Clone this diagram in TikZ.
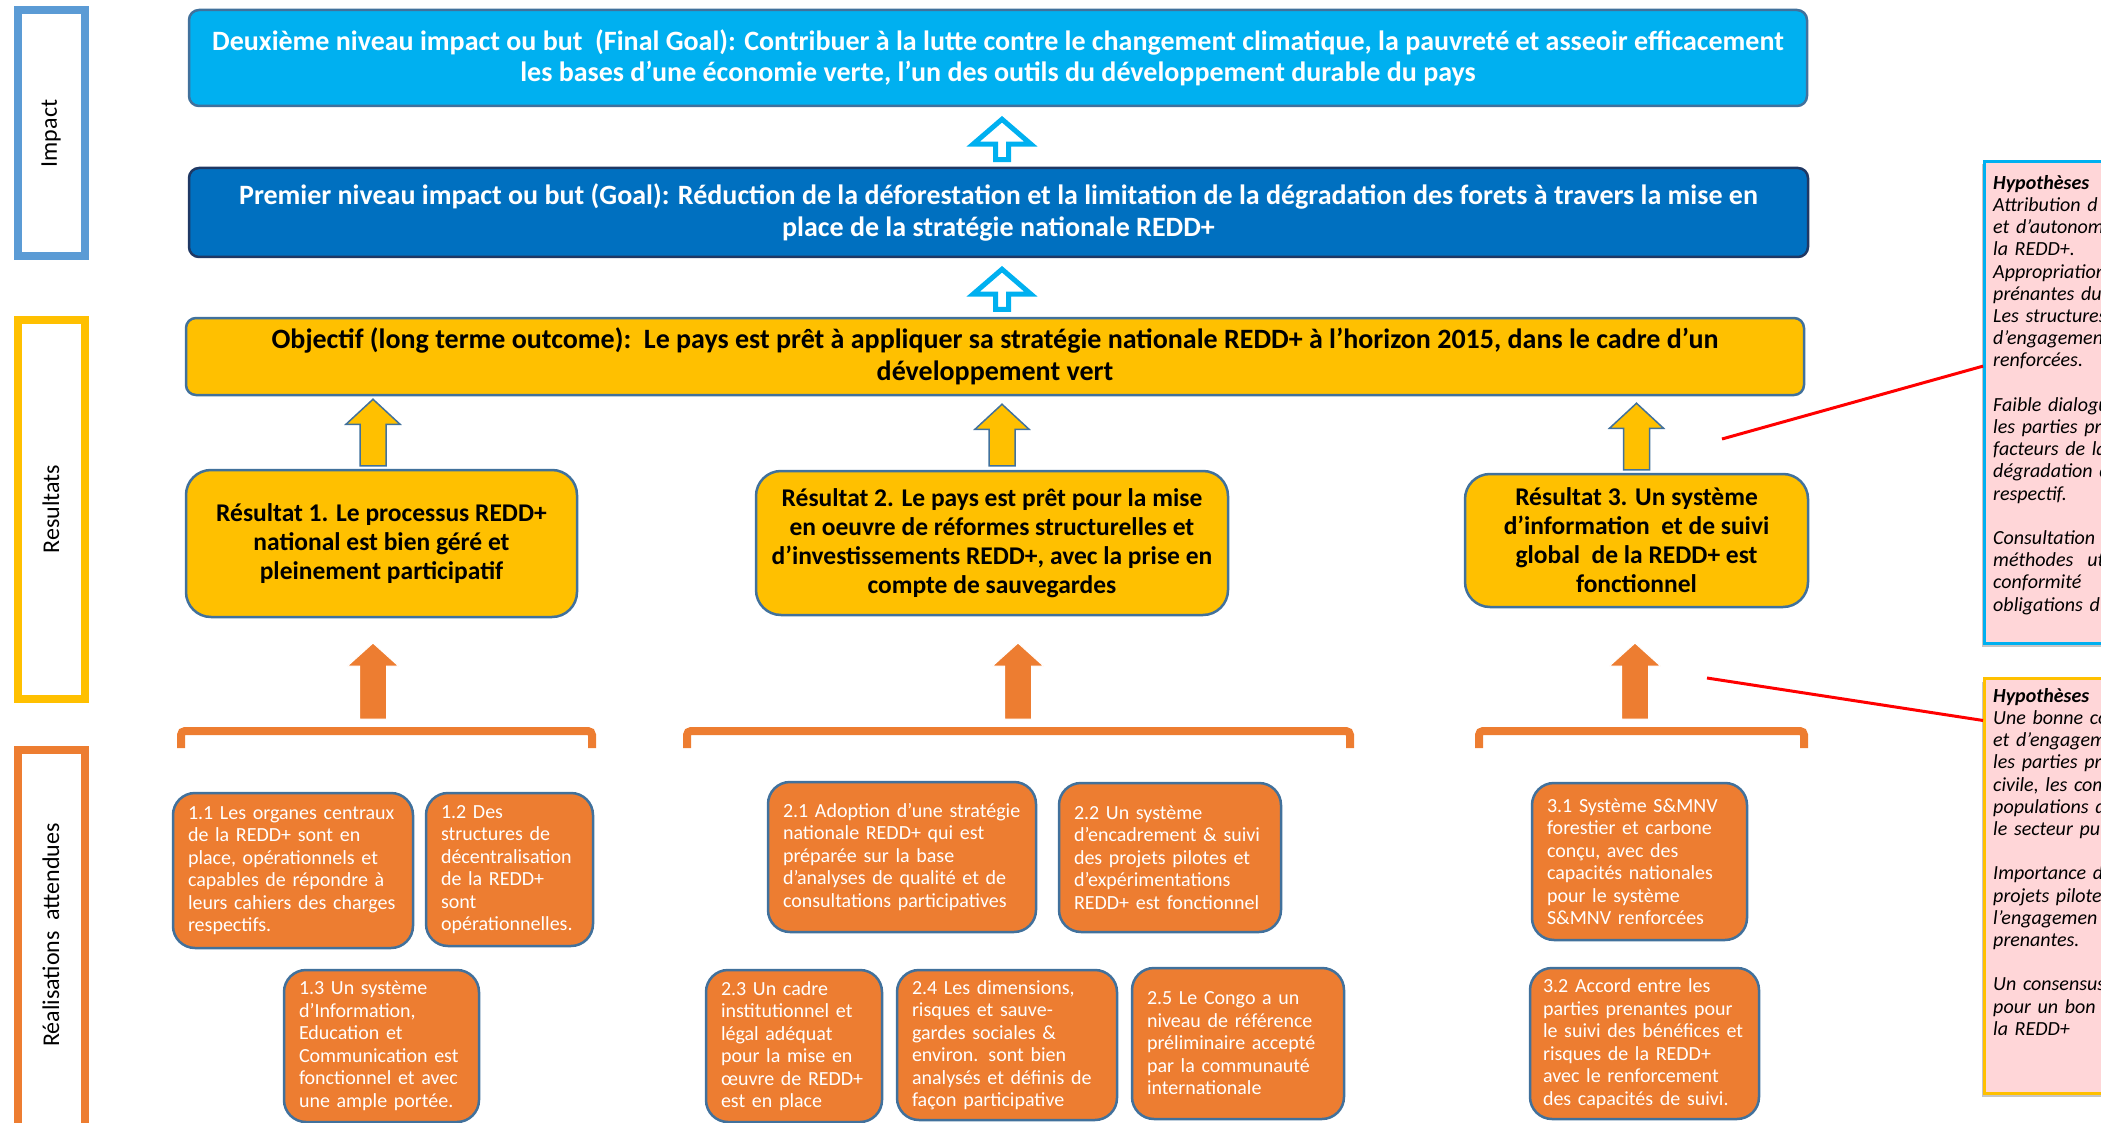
\documentclass[tikz,border=0pt]{standalone}
\usepackage{fontspec}
\setmainfont{Carlito}
\usetikzlibrary{calc,shadows}

\definecolor{skyblue}{HTML}{00B0F0}
\definecolor{deepblue}{HTML}{0070C0}
\definecolor{navy}{HTML}{1F3864}
\definecolor{gold}{HTML}{FFC000}
\definecolor{carrot}{HTML}{ED7D31}
\definecolor{steel}{HTML}{41719C}
\definecolor{labelblue}{HTML}{5B9BD5}
\definecolor{blush}{HTML}{FFD6D8}

% block arrow: style, foot, tip, shaft half width, head half width, head length
\newcommand\blockarrow[6]{%
  \draw[#1] let \p1=(#2), \p2=(#3) in
    (\x1-#4pt,\y1) -- (\x1-#4pt,\y2-#6pt) -- (\x1-#5pt,\y2-#6pt) -- (\x1,\y2)
    -- (\x1+#5pt,\y2-#6pt) -- (\x1+#4pt,\y2-#6pt) -- (\x1+#4pt,\y1) -- cycle;}

\begin{document}
\begin{tikzpicture}[x=1pt,y=-1pt,
  sidebox/.style={draw, line width=8pt, minimum width=67pt},
  sidelabel/.style={rotate=90, inner sep=0pt, font=\fontsize{24}{29}\selectfont},
  levelbox/.style={rounded corners=10pt, line width=2.5pt, align=center, inner sep=0pt,
    font=\fontsize{28}{31.5}\selectfont\bfseries},
  resbox/.style={fill=gold, draw=steel, line width=2.5pt, rounded corners=25pt, align=center,
    inner sep=0pt, font=\fontsize{25.5}{29}\selectfont\bfseries},
  realbox/.style={fill=carrot, draw=steel, line width=2.5pt, rounded corners=22pt, text=white,
    align=left, inner xsep=15pt, inner ysep=0pt, font=\fontsize{20}{22.5}\selectfont},
  hypbox/.style={fill=blush, line width=3pt, anchor=north west, minimum width=300pt,
    drop shadow={shadow xshift=-3pt, shadow yshift=-3pt, opacity=0.45}},
  hyptext/.style={anchor=north west, align=left, inner sep=0pt, text width=300pt,
    font=\fontsize{20}{22.2}\selectfont\itshape},
  barrow/.style={fill=white, draw=skyblue, line width=5pt, line join=miter},
  yarrow/.style={fill=gold, draw=steel, line width=1.5pt},
  oarrow/.style={fill=carrot, draw=white, line width=1pt},
  bracket/.style={draw=carrot, line width=8pt, rounded corners=4pt},
  hypline/.style={draw=red, line width=3pt}]

\useasboundingbox (0,0) rectangle (2101,1123);
\clip (0,0) rectangle (2101,1123);

% side labels
\node[sidebox, draw=labelblue, minimum height=246pt] (impactbox) at (51,133.5) {};
\node[sidelabel] (impact) at (impactbox) {Impact};
\node[sidebox, draw=gold, minimum height=379pt] (resbox) at (51,509) {};
\node[sidelabel] (resultats) at (resbox) {Resultats};
\node[sidebox, draw=carrot, minimum height=400pt] (realbox) at (51,949.5) {};
\node[sidelabel] (realisations) at (51,935) {Réalisations~~attendues};

% impact levels
\node[levelbox, fill=skyblue, draw=steel, text=white, minimum width=1618pt, minimum height=96pt] (final) at (998,58)
  {Deuxième niveau impact ou but~~(Final Goal): Contribuer à la lutte contre le changement climatique, la pauvreté et asseoir efficacement\\
   les bases d’une économie verte, l’un des outils du développement durable du pays};
\node[levelbox, fill=deepblue, draw=navy, text=white, minimum width=1619pt, minimum height=89pt] (goal) at (998.5,212.5)
  {Premier niveau impact ou but (Goal): Réduction de la déforestation et la limitation de la dégradation des forets à travers la mise en\\
   place de la stratégie nationale REDD+};
\node[levelbox, fill=gold, draw=steel, minimum width=1618pt, minimum height=77pt] (obj) at (995,356.5)
  {Objectif (long terme outcome):~~Le pays est prêt à appliquer sa stratégie nationale REDD+ à l’horizon 2015, dans le cadre d’un\\
   développement vert};

% resultats
\node[resbox, minimum width=391pt, minimum height=147pt] (res1) at (381.5,543.5)
  {Résultat 1. Le processus REDD+\\national est bien géré et\\pleinement participatif};
\node[resbox, minimum width=472pt, minimum height=144pt] (res2) at (992,543)
  {Résultat 2. Le pays est prêt pour la mise\\en oeuvre de réformes structurelles et\\d’investissements REDD+, avec la prise en\\compte de sauvegardes};
\node[resbox, minimum width=343pt, minimum height=133pt] (res3) at (1636.5,540.5)
  {Résultat 3. Un système\\d’information~~et de suivi\\global~~de la REDD+ est\\fonctionnel};

% realisations attendues
\node[realbox, text width=210pt, minimum height=155pt] (r11) at (293,870.5)
  {1.1 Les organes centraux\\de la REDD+ sont en\\place, opérationnels et\\capables de répondre à\\leurs cahiers des charges\\respectifs.};
\node[realbox, text width=137pt, minimum height=153pt] (r12) at (509.5,869.5)
  {1.2 Des\\structures de\\décentralisation\\de la REDD+\\sont\\opérationnelles.};
\node[realbox, text width=165pt, minimum height=152pt] (r13) at (381.5,1046)
  {1.3 Un système\\d'Information,\\Education et\\Communication est\\fonctionnel et avec\\une ample portée.};
\node[realbox, text width=238pt, minimum height=150pt] (r21) at (902,857)
  {2.1 Adoption d’une stratégie\\nationale REDD+ qui est\\préparée sur la base\\d’analyses de qualité et de\\consultations participatives};
\node[realbox, text width=192pt, minimum height=149pt] (r22) at (1170,857.5)
  {2.2 Un système\\d’encadrement \& suivi\\des projets pilotes et\\d’expérimentations\\REDD+ est fonctionnel};
\node[realbox, text width=146pt, minimum height=152pt] (r23) at (794,1046)
  {2.3 Un cadre\\institutionnel et\\légal adéquat\\pour la mise en\\œuvre de REDD+\\est en place};
\node[realbox, text width=190pt, minimum height=150pt] (r24) at (1007,1045)
  {2.4 Les dimensions,\\risques et sauve-\\gardes sociales \&\\environ. sont bien\\analysés et définis de\\façon participative};
\node[realbox, text width=182pt, minimum height=151pt] (r25) at (1238,1043.5)
  {2.5 Le Congo a un\\niveau de référence\\préliminaire accepté\\par la communauté\\internationale};
\node[realbox, text width=185pt, minimum height=157pt] (r31) at (1639.5,861.5)
  {3.1 Système S\&MNV\\forestier et carbone\\conçu, avec des\\capacités nationales\\pour le système\\S\&MNV renforcées};
\node[realbox, inner xsep=13pt, text width=203pt, minimum height=151pt] (r32) at (1644.5,1043.5)
  {3.2 Accord entre les\\parties prenantes pour\\le suivi des bénéfices et\\risques de la REDD+\\avec le renforcement\\des capacités de suivi.};

% brackets
\draw[bracket] (181,748) -- (181,731) -- (592,731) -- (592,748);
\draw[bracket] (687,748) -- (687,731) -- (1350,731) -- (1350,748);
\draw[bracket] (1479,748) -- (1479,731) -- (1804,731) -- (1804,748);

% arrows
\blockarrow{barrow}{[xshift=3.5pt,yshift=7pt]goal.north}{[yshift=-12pt]final.south}{6.5}{29}{25}
\blockarrow{barrow}{[xshift=7pt,yshift=7.5pt]obj.north}{[yshift=-11pt]goal.south}{6.5}{29}{25}
\blockarrow{yarrow}{[xshift=-8.5pt,yshift=3pt]res1.north}{[yshift=-3pt]obj.south}{13}{27}{25}
\blockarrow{yarrow}{[xshift=10pt,yshift=4pt]res2.north}{[yshift=-8pt]obj.south}{13}{27}{25}
\blockarrow{yarrow}{[yshift=3pt]res3.north}{[yshift=-7pt]obj.south}{13}{27}{25}
\coordinate (o1b) at (373,719);  \coordinate (o1t) at (373,643);
\coordinate (o2b) at (1018,719); \coordinate (o2t) at (1018,643);
\coordinate (o3b) at (1635,719); \coordinate (o3t) at (1635,643);
\blockarrow{oarrow}{o1b}{o1t}{13.5}{25.5}{23}
\blockarrow{oarrow}{o2b}{o2t}{13.5}{25.5}{23}
\blockarrow{oarrow}{o3b}{o3t}{13.5}{25.5}{23}

% hypotheses
\node[hypbox, draw=skyblue, minimum height=482pt] (hyp1) at (1983,160) {};
\node[hyptext] (hyp1txt) at (1993,175)
  {\textbf{Hypothèses}\\Attribution d\\et d'autonom\\la REDD+.\\Appropriation\\prénantes du\\Les structures\\d'engagemen\\renforcées.\\[22.2pt]
   Faible dialogu\\les parties pr\\facteurs de la\\dégradation d\\respectif.\\[22.2pt]
   Consultation\\méthodes\hspace{14pt}ut\\conformité\\obligations d};
\node[hypbox, draw=gold, minimum height=415pt] (hyp2) at (1983,677) {};
\node[hyptext] (hyp2txt) at (1993,688)
  {\textbf{Hypothèses}\\Une bonne co\\et d’engagem\\les parties pr\\civile, les com\\populations d\\le secteur pu\\[22.2pt]
   Importance d\\projets pilote\\l’engagemen\\prenantes.\\[22.2pt]
   Un consensus\\pour un bon s\\la REDD+};

\coordinate (hint1) at (1722,439);
\coordinate (hint2) at (1707,678);
\draw[hypline] (hint1) -- ($(hyp1.north west)!0.425!(hyp1.south west)$);
\draw[hypline] (hint2) -- ($(hyp2.north west)!0.104!(hyp2.south west)$);
\end{tikzpicture}
\end{document}
